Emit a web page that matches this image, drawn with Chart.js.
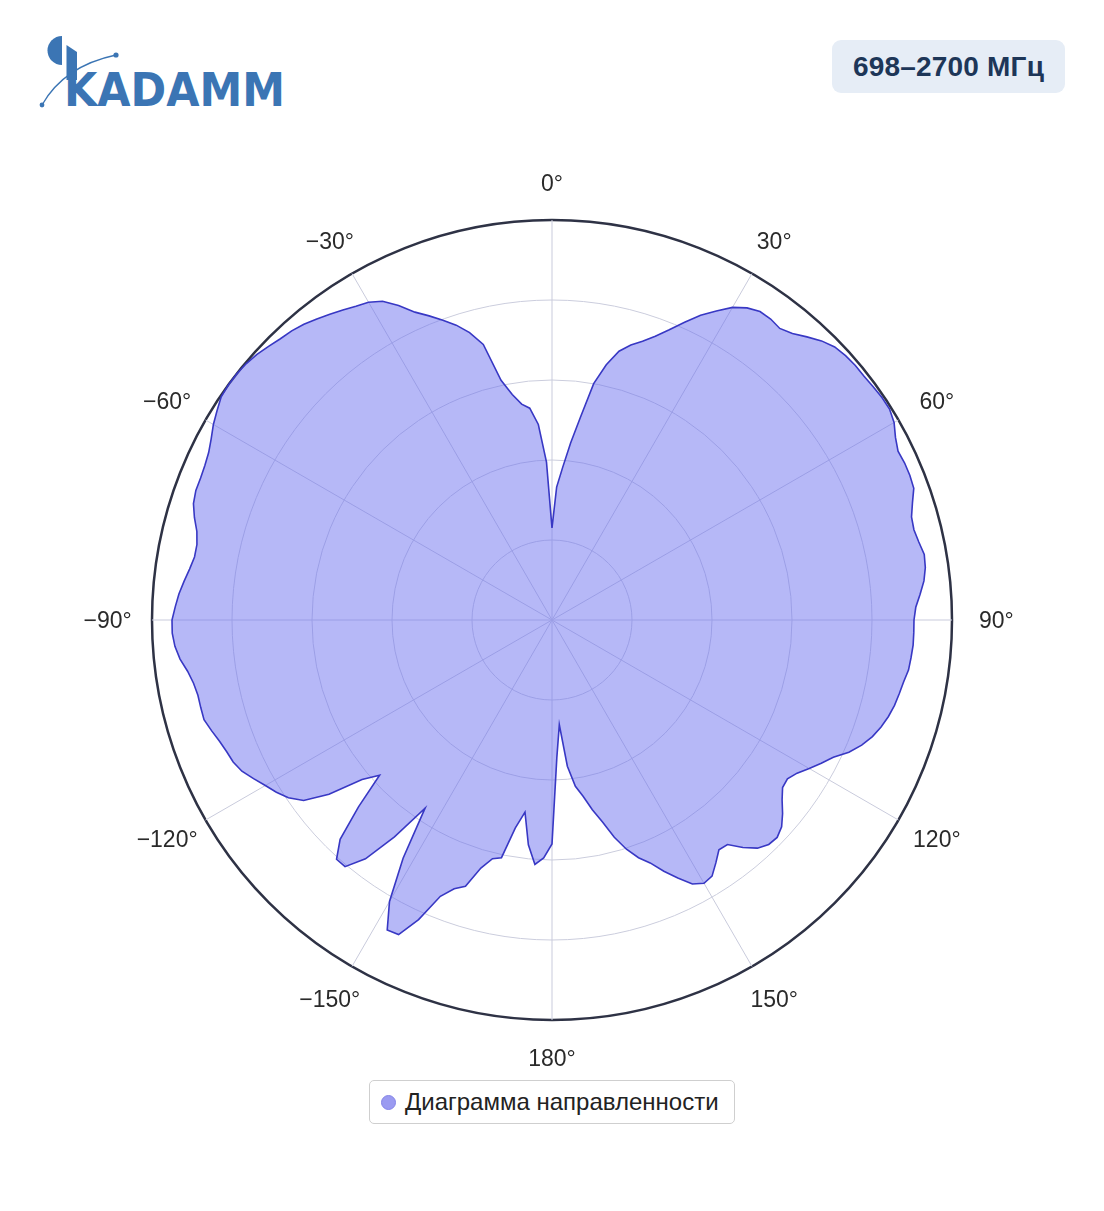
<!DOCTYPE html>
<html lang="ru">
<head>
<meta charset="utf-8">
<title>Диаграмма направленности 698–2700 МГц</title>
<script src="https://cdn.jsdelivr.net/npm/chart.js@4.4.0/dist/chart.umd.min.js"></script>
<style>
  html, body { margin: 0; padding: 0; background: #ffffff; }
  body { width: 1104px; height: 1211px; position: relative; overflow: hidden; font-family: "Liberation Sans", Arial, sans-serif; }
  #logo { position: absolute; left: 0; top: 0; }
  #badge {
    position: absolute; left: 832px; top: 40px; width: 233px; height: 53px;
    background: #e6edf6; border-radius: 9px;
    display: flex; align-items: center; justify-content: center;
    font-weight: bold; font-size: 28px; color: #1d3658; letter-spacing: 0.2px;
  }
  #wrap { position: absolute; left: 52px; top: 120px; width: 1000px; height: 1000px; }
  #legend {
    position: absolute; left: 369px; top: 1080px; width: 364px; height: 42px;
    border: 1px solid #cfcfcf; border-radius: 5px; background: #fff;
    display: flex; align-items: center; box-sizing: content-box;
  }
  #legend .dot {
    width: 13px; height: 13px; border-radius: 50%; background: #9b9bf1;
    border: 1px solid #8585e8; margin-left: 11px; margin-right: 9px; flex: none;
  }
  #legend .txt { font-size: 24px; color: #222; white-space: nowrap; }
</style>
</head>
<body>
<svg id="logo" width="320" height="130" viewBox="0 0 320 130">
  <path d="M62,36 A14.5,14.5 0 0 0 62,65 Z" fill="#3b75b4"/>
  <polygon points="66.5,45 77,52 77,80 66.5,80" fill="#3b75b4"/>
  <text x="64" y="106" font-family="DejaVu Sans, Verdana, sans-serif" font-weight="bold" font-size="46" fill="#3b75b4" textLength="221" lengthAdjust="spacingAndGlyphs">KADAMM</text>
  <path d="M42,105 Q64,66 116,55" fill="none" stroke="#3b75b4" stroke-width="1.3"/>
  <circle cx="42" cy="105" r="2.4" fill="#3b75b4"/>
  <circle cx="116" cy="55" r="2.6" fill="#3b75b4"/>
</svg>
<div id="badge">698–2700 МГц</div>
<div id="wrap"><canvas id="c" width="1000" height="1000"></canvas></div>
<div id="legend"><span class="dot"></span><span class="txt">Диаграмма направленности</span></div>
<script>
// Angle categories (degrees, clockwise from 0° at top), 2° steps
const angles = [
  0,2,4,6,8,10,12,14,16,18,20,22,24,26,28,30,32,34,36,38,
  40,42,44,46,48,50,52,54,56,58,60,62,64,66,68,70,72,74,76,78,
  80,82,84,86,88,90,92,94,96,98,100,102,104,106,108,110,112,114,116,118,
  120,122,124,126,128,130,132,134,136,138,140,142,144,146,148,150,152,154,156,158,
  160,162,164,166,168,170,172,174,176,178,180,182,184,186,188,190,192,194,196,198,
  200,202,204,206,208,210,212,214,216,218,220,222,224,226,228,230,232,234,236,238,
  240,242,244,246,248,250,252,254,256,258,260,262,264,266,268,270,272,274,276,278,
  280,282,284,286,288,290,292,294,296,298,300,302,304,306,308,310,312,314,316,318,
  320,322,324,326,328,330,332,334,336,338,340,342,344,346,348,350,352,354,356,358
];

// Radiation pattern values (radial units, 0–40)
const pattern = [
  9.2,13.3,15.3,17.8,20.5,24.0,26.1,27.7,28.6,29.3,30.2,31.3,32.6,33.9,35.0,36.1,36.8,37.2,37.2,37.0,
  37.4,38.1,38.8,39.3,39.5,39.6,39.6,39.7,39.8,39.8,39.5,38.9,38.5,38.6,38.6,38.5,37.9,37.4,37.3,37.5,
  37.8,37.7,37.4,36.9,36.4,36.2,36.2,36.2,36.1,36.0,35.7,35.5,35.3,35.0,34.6,34.1,33.4,32.5,31.3,30.5,
  29.7,28.9,28.4,28.5,29.2,30.1,30.9,31.3,31.2,30.7,29.7,28.5,28.4,29.3,30.2,30.4,29.9,28.7,27.5,26.2,
  25.3,24.1,22.6,20.8,19.4,17.9,16.8,14.7,10.5,13.8,22.4,23.8,24.5,22.6,19.4,21.1,24.3,24.6,25.8,28.0,
  28.6,29.8,32.8,35.0,35.1,32.5,28.1,22.7,26.8,30.3,32.2,32.2,30.5,26.9,23.2,24.8,28.3,30.7,31.8,32.5,
  33.1,33.8,34.5,34.9,35.1,35.4,35.8,36.2,36.2,36.2,36.4,36.8,37.4,37.8,38.0,38.0,37.7,37.4,37.0,36.6,
  36.3,36.3,36.6,37.2,37.7,37.9,37.9,38.0,38.2,38.6,39.1,39.5,39.9,40.0,40.0,39.9,39.7,39.4,39.1,38.9,
  38.6,38.2,37.8,37.4,37.0,36.7,36.1,35.0,33.7,32.8,31.9,31.0,29.9,28.4,24.5,22.9,21.8,21.3,19.6,15.8
];

// Angular tick labels
const tickAngles = [0, 30, 60, 90, 120, 150, 180, 210, 240, 270, 300, 330];
const tickLabels = ['0°', '30°', '60°', '90°', '120°', '150°', '180°', '−150°', '−120°', '−90°', '−60°', '−30°'];

const seriesName = 'Диаграмма направленности';

const angleLabelPlugin = {
  id: 'angleLabels',
  afterDraw(chart) {
    const s = chart.scales.r;
    const ctx = chart.ctx;
    ctx.save();
    ctx.font = '23px "Liberation Sans", Arial, sans-serif';
    ctx.fillStyle = '#2a2a2a';
    ctx.textAlign = 'center';
    ctx.textBaseline = 'middle';
    tickAngles.forEach((a, i) => {
      const idx = angles.indexOf(a);
      const p = s.getPointPosition(idx, s.drawingArea + 40);
      const x = s.xCenter + (p.x - s.xCenter) * 1.01;
      const y = s.yCenter + (p.y - s.yCenter) * 0.995;
      ctx.fillText(tickLabels[i], x, y + 2);
    });
    ctx.restore();
  }
};

new Chart(document.getElementById('c'), {
  type: 'radar',
  data: {
    labels: angles.map(String),
    datasets: [{
      label: seriesName,
      data: pattern,
      fill: true,
      backgroundColor: 'rgba(110,113,240,0.5)',
      borderColor: '#3838c4',
      borderWidth: 1.6,
      pointRadius: 0,
      pointHoverRadius: 0,
      tension: 0
    }]
  },
  options: {
    responsive: false,
    animation: false,
    devicePixelRatio: 1,
    layout: { padding: 100 },
    plugins: { legend: { display: false }, tooltip: { enabled: false } },
    scales: {
      r: {
        min: 0,
        max: 40,
        startAngle: 0,
        ticks: { display: false, stepSize: 8 },
        pointLabels: { display: false },
        grid: {
          circular: true,
          color: (c) => c.index === 5 ? '#2e3245' : '#cbcddd',
          lineWidth: (c) => c.index === 5 ? 2.5 : 1
        },
        angleLines: {
          display: true,
          color: (c) => tickAngles.includes(angles[c.index]) ? '#c9cbdc' : 'rgba(0,0,0,0)',
          lineWidth: (c) => tickAngles.includes(angles[c.index]) ? 1 : 0
        }
      }
    }
  },
  plugins: [angleLabelPlugin]
});
</script>
</body>
</html>
